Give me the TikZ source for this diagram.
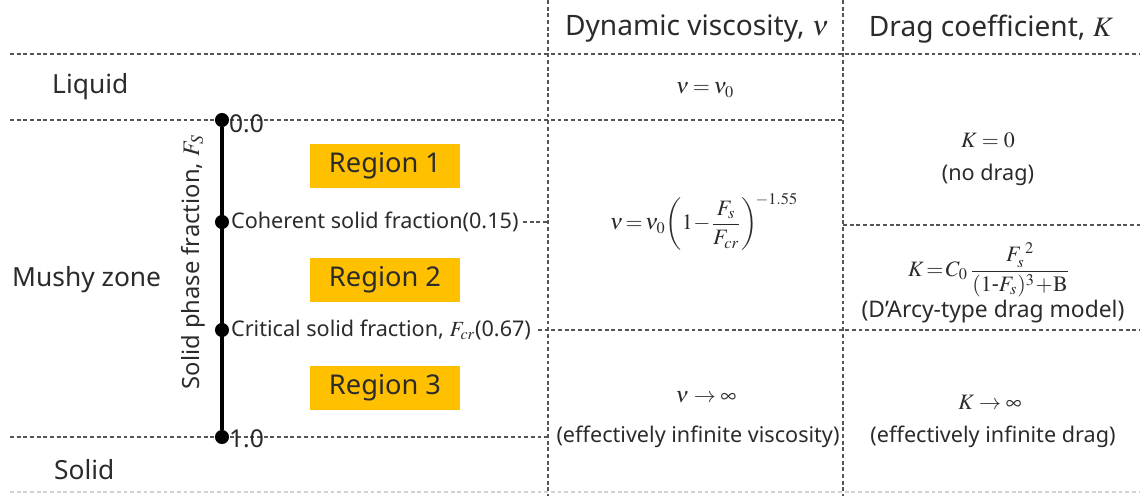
\documentclass[tikz,border=0pt]{standalone}
\usepackage{amsmath}
\usepackage{mathptmx}
\usepackage[no-math]{fontspec}
\setmainfont{Noto Sans}
\definecolor{regionfill}{HTML}{FFC000}
\definecolor{inkgray}{HTML}{2B2B2B}
\tikzset{
  gridline/.style={draw=inkgray!80, line width=0.7pt, dash pattern=on 2.2pt off 1.6pt},
  faintline/.style={draw=gray!35, line width=0.7pt, dash pattern=on 2.2pt off 1.6pt},
  regionbox/.style={fill=regionfill, minimum width=85.4pt, minimum height=24.5pt, inner sep=0pt, font=\fontsize{15.5}{18}\selectfont},
  tickdot/.style={circle, fill=black, minimum size=8pt, inner sep=0pt},
  lbl/.style={font=\fontsize{15}{17}\selectfont},
  head/.style={font=\fontsize{16}{18}\selectfont},
  small/.style={font=\fontsize{12.3}{15}\selectfont},
  eq/.style={font=\fontsize{12.5}{15}\selectfont}
}
\begin{document}
\begin{tikzpicture}[x=0.2mm, y=-0.2mm, text=inkgray]
\useasboundingbox (0,0) rectangle (1140,496);
\draw[gridline] (10,54) -- (1140,54);
\draw[gridline] (10,120) -- (843,120);
\draw[gridline] (843,225) -- (1140,225);
\draw[gridline] (523,222) -- (548,222);
\draw[gridline] (538,330) -- (1140,330);
\draw[gridline] (10,437) -- (548,437);
\draw[faintline] (10,492) -- (1140,492);
\draw[gridline] (548,0) -- (548,496);
\draw[gridline] (843,0) -- (843,496);
\node[head] (visc) at (697,29) {Dynamic viscosity, $\nu$};
\node[head] (drag) at (991,29) {Drag coefficient, $K$};
\node[lbl, anchor=west] (liquid) at (46,87) {Liquid};
\node[lbl, anchor=west] (mushy) at (6,280) {Mushy zone};
\node[lbl, anchor=west] (solid) at (48,470) {Solid};
\node[tickdot] (f0) at (222,120) {};
\node[tickdot] (f1) at (222,222) {};
\node[tickdot] (f2) at (222,330) {};
\node[tickdot] (f3) at (222,437) {};
\draw[line width=2.3pt] (f0) -- (f3);
\node[font=\fontsize{14}{16}\selectfont, anchor=west, inner sep=1pt] (top) at (227,124) {0.0};
\node[font=\fontsize{14}{16}\selectfont, anchor=west, inner sep=1pt] (bot) at (227,439) {1.0};
\node[small, anchor=west, inner sep=1pt] (coherent) at (229,222) {Coherent solid fraction(0.15)};
\node[small, anchor=west, inner sep=1pt] (critical) at (229,330) {Critical solid fraction, $F_{cr}$(0.67)};
\node[font=\fontsize{13.5}{16}\selectfont, rotate=90] (axislbl) at (193,262) {Solid phase fraction, $F_S$};
\node[regionbox] (r1) at (385,166) {Region 1};
\node[regionbox] (r2) at (385,280) {Region 2};
\node[regionbox] (r3) at (385,388) {Region 3};
\node[eq] (nu0) at (705,90) {$\nu\mkern3mu{=}\mkern3mu\nu_0$};
\node[eq] (nueq) at (704,222) {$\nu\mkern2mu{=}\mkern2mu\nu_0\!\left(1\!-\!\dfrac{F_s}{F_{cr}}\right)^{\!-1.55}$};
\node[eq] (nuinf) at (706,397) {$\nu\rightarrow\infty$};
\node[small] (nuinftxt) at (698,437) {(effectively infinite viscosity)};
\node[eq] (k0) at (988,140) {$K=0$};
\node[small] (k0txt) at (988,175) {(no drag)};
\node[eq] (keq) at (989,270) {$K\mkern2mu{=}\mkern2mu C_0\,\dfrac{F_s^{\;2}}{(1\text{-}F_s)^3\!+\!\mathrm{B}}$};
\node[small, font=\fontsize{13}{15}\selectfont] (keqtxt) at (993,312) {(D'Arcy-type drag model)};
\node[eq] (kinf) at (990,402) {$K\rightarrow\infty$};
\node[small] (kinftxt) at (993,437) {(effectively infinite drag)};
\end{tikzpicture}
\end{document}
